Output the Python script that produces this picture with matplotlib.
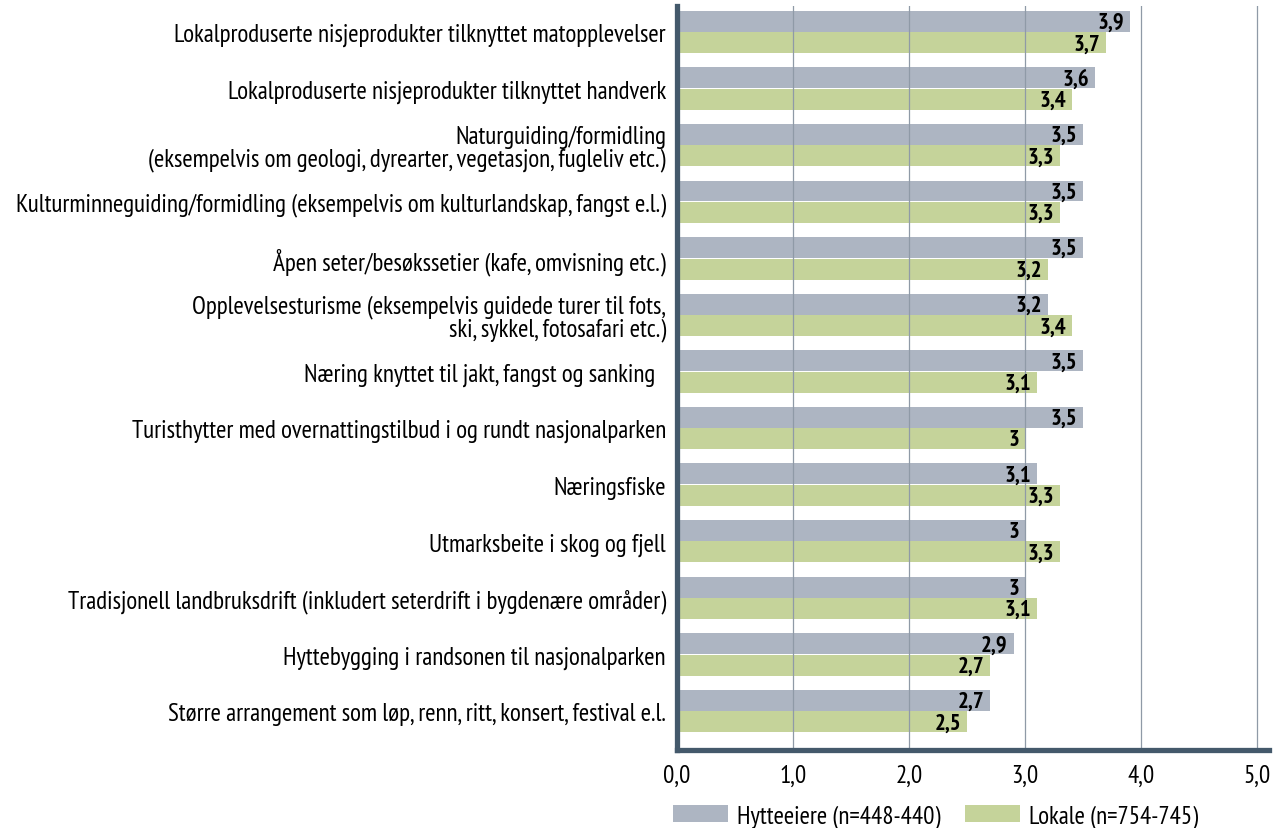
import matplotlib
matplotlib.use("Agg")
import matplotlib.pyplot as plt
from matplotlib.patches import Patch
import numpy as np

plt.rcParams['font.family'] = ['PT Sans Narrow', 'DejaVu Sans']

categories = [
    "Lokalproduserte nisjeprodukter tilknyttet matopplevelser",
    "Lokalproduserte nisjeprodukter tilknyttet handverk",
    "Naturguiding/formidling\n(eksempelvis om geologi, dyrearter, vegetasjon, fugleliv etc.)",
    "Kulturminneguiding/formidling (eksempelvis om kulturlandskap, fangst e.l.)",
    "Åpen seter/besøkssetier (kafe, omvisning etc.)",
    "Opplevelsesturisme (eksempelvis guidede turer til fots,\nski, sykkel, fotosafari etc.)",
    "Næring knyttet til jakt, fangst og sanking  ",
    "Turisthytter med overnattingstilbud i og rundt nasjonalparken",
    "Næringsfiske",
    "Utmarksbeite i skog og fjell",
    "Tradisjonell landbruksdrift (inkludert seterdrift i bygdenære områder)",
    "Hyttebygging i randsonen til nasjonalparken",
    "Større arrangement som løp, renn, ritt, konsert, festival e.l.",
]
hytteeiere = [3.9, 3.6, 3.5, 3.5, 3.5, 3.2, 3.5, 3.5, 3.1, 3.0, 3.0, 2.9, 2.7]
lokale = [3.7, 3.4, 3.3, 3.3, 3.2, 3.4, 3.1, 3.0, 3.3, 3.3, 3.1, 2.7, 2.5]
series_names = ["Hytteeiere (n=448-440)", "Lokale (n=754-745)"]
xticks = [0, 1, 2, 3, 4, 5]

c_gray = "#adb5c2"
c_green = "#c5d39a"
c_spine = "#44596b"
c_grid = "#8f9aa7"

fig = plt.figure(figsize=(12.76, 8.29), dpi=100)
ax = fig.add_axes([0.5306, 0.0941, 0.4639, 0.8975])

n = len(categories)
y = np.arange(n)
h = 0.37
off = 0.19
b1 = ax.barh(y - off, hytteeiere, height=h, color=c_gray, zorder=1)
b2 = ax.barh(y + off, lokale, height=h, color=c_green, zorder=1)

def fmt(v):
    if abs(v - round(v)) < 1e-9:
        return f"{int(round(v))}"
    return f"{v:.1f}".replace(".", ",")

for bars, vals in ((b1, hytteeiere), (b2, lokale)):
    for bar, v in zip(bars, vals):
        ax.text(v - 0.05, bar.get_y() + bar.get_height() / 2 + 0.02, fmt(v),
                ha="right", va="center", fontsize=16.5, fontweight="bold",
                color="black", zorder=3)

ax.set_ylim(12.69, -0.46)
ax.set_xlim(0, 5.10)
ax.set_yticks(y)
ax.set_yticklabels(categories, fontsize=18, ha="right", multialignment="right")
for t in ax.get_yticklabels():
    t.set_linespacing(1.0)
ax.set_xticks(xticks)
ax.set_xticklabels([f"{t:.1f}".replace(".", ",") for t in xticks], fontsize=18)
ax.tick_params(axis="y", length=0, pad=8)
ax.tick_params(axis="x", length=0, pad=10)

ax.grid(axis="x", color=c_grid, linewidth=0.9, zorder=2)
ax.set_axisbelow(False)
for s in ("top", "right"):
    ax.spines[s].set_visible(False)
for s in ("left", "bottom"):
    ax.spines[s].set_color(c_spine)
    ax.spines[s].set_linewidth(3.8)
    ax.spines[s].set_zorder(4)

handles = [Patch(facecolor=c_gray, edgecolor="none"), Patch(facecolor=c_green, edgecolor="none")]
fig.legend(handles, series_names, loc="center left", bbox_to_anchor=(0.5274, 0.0145),
           ncol=2, frameon=False, fontsize=18, handlelength=2.2, handleheight=0.72,
           columnspacing=1.0, handletextpad=0.36, borderpad=0, borderaxespad=0)

fig.savefig("out.png", dpi=100)
